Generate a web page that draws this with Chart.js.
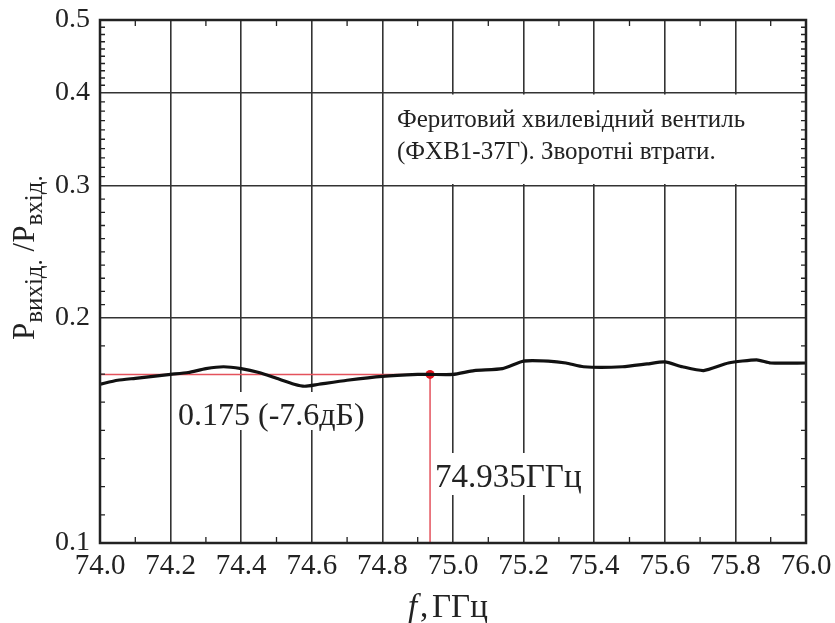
<!DOCTYPE html>
<html>
<head>
<meta charset="utf-8">
<script src="https://cdn.jsdelivr.net/npm/chart.js@4"></script>
<style>
  html, body { margin: 0; padding: 0; background: #fff; }
  #wrap { width: 835px; height: 623px; }
</style>
</head>
<body>
<div id="wrap"><canvas id="lossChart" width="835" height="623"></canvas></div>
<script>
// frequency, GHz
const freqs = [74.00, 74.05, 74.10, 74.15, 74.20, 74.25, 74.30, 74.35, 74.40, 74.45,
  74.50, 74.55, 74.58, 74.62, 74.70, 74.80, 74.90, 74.935, 75.00, 75.06,
  75.14, 75.20, 75.27, 75.32, 75.37, 75.48, 75.55, 75.60, 75.65, 75.71,
  75.78, 75.86, 75.90, 76.00];
// Pout / Pin
const ratio = [0.163, 0.165, 0.166, 0.167, 0.168, 0.169, 0.171, 0.172, 0.171, 0.169,
  0.166, 0.163, 0.162, 0.163, 0.165, 0.167, 0.168, 0.168, 0.168, 0.170,
  0.171, 0.175, 0.175, 0.174, 0.172, 0.172, 0.1735, 0.1746, 0.172, 0.170,
  0.174, 0.1757, 0.174, 0.174];

const xTicks = [74.0, 74.2, 74.4, 74.6, 74.8, 75.0, 75.2, 75.4, 75.6, 75.8, 76.0];
const yTicks = [0.1, 0.2, 0.3, 0.4, 0.5];

const markerFreq = 74.935;
const markerLevel = 0.168;

const SERIF = '"Liberation Serif", "Times New Roman", serif';

// white label boxes, notes and frame
const decor = {
  id: 'decor',
  beforeDatasetsDraw(chart) {
    const { ctx, chartArea: a, scales: { x, y } } = chart;
    ctx.save();
    ctx.fillStyle = '#fff';
    // caption box between 0.3 and 0.4 lines
    const bx = x.getPixelForValue(74.8) + 2;
    const by1 = y.getPixelForValue(0.4) + 2;
    const by2 = y.getPixelForValue(0.3) - 2;
    ctx.fillRect(bx, by1, a.right - bx, by2 - by1);
    ctx.fillRect(175, 392, 200, 38);
    ctx.fillRect(433, 453, 158, 42);

    ctx.fillStyle = '#222';
    ctx.textBaseline = 'alphabetic';
    ctx.font = '25px ' + SERIF;
    ctx.fillText('Феритовий хвилевідний вентиль', 397, 127);
    ctx.fillText('(ФХВ1-37Г). Зворотні втрати.', 397, 159);

    ctx.font = '32px ' + SERIF;
    ctx.fillText('0.175 (-7.6дБ)', 178, 425);
    ctx.font = '33px ' + SERIF;
    ctx.fillText('74.935ГГц', 435, 487);
    ctx.restore();
  },
  afterDraw(chart) {
    const { ctx, chartArea: a, scales: { x, y } } = chart;
    ctx.save();
    ctx.strokeStyle = '#222';
    ctx.lineWidth = 1.3;
    // minor ticks top / bottom
    for (let i = 0; i < xTicks.length - 1; i++) {
      const px = x.getPixelForValue((xTicks[i] + xTicks[i + 1]) / 2);
      ctx.beginPath();
      ctx.moveTo(px, a.top); ctx.lineTo(px, a.top + 6);
      ctx.moveTo(px, a.bottom); ctx.lineTo(px, a.bottom - 6);
      ctx.stroke();
    }
    // minor ticks left / right, evenly spaced between majors
    const subs = [8, 10, 10, 10];
    for (let i = 0; i < yTicks.length - 1; i++) {
      const p0 = y.getPixelForValue(yTicks[i]);
      const p1 = y.getPixelForValue(yTicks[i + 1]);
      for (let k = 1; k < subs[i]; k++) {
        const py = p0 + (p1 - p0) * k / subs[i];
        ctx.beginPath();
        ctx.moveTo(a.left, py); ctx.lineTo(a.left + 5, py);
        ctx.moveTo(a.right, py); ctx.lineTo(a.right - 5, py);
        ctx.stroke();
      }
    }
    // frame
    ctx.lineWidth = 2.5;
    ctx.strokeRect(a.left, a.top, a.right - a.left, a.bottom - a.top);

    // x title
    ctx.fillStyle = '#222';
    ctx.textBaseline = 'alphabetic';
    ctx.font = 'italic 33px ' + SERIF;
    ctx.fillText('f', 408, 617);
    ctx.font = '33px ' + SERIF;
    ctx.fillText(',', 420, 617);
    ctx.fillText('ГГц', 432, 617);

    // y title, rotated, with subscripts
    ctx.translate(34, 340);
    ctx.rotate(-Math.PI / 2);
    let cx = 0;
    const part = (t, size, dy) => {
      ctx.font = size + 'px ' + SERIF;
      ctx.fillText(t, cx, dy);
      cx += ctx.measureText(t).width;
    };
    part('P', 31, 0);
    part('вихід.', 25, 8);
    part(' /', 31, 0);
    part('P', 31, 0);
    part('вхід.', 25, 8);
    ctx.restore();
  }
};

const ctx = document.getElementById('lossChart').getContext('2d');
new Chart(ctx, {
  type: 'line',
  data: {
    datasets: [
      {
        label: 'loss',
        data: freqs.map((f, i) => ({ x: f, y: ratio[i] })),
        borderColor: '#111',
        borderWidth: 3.2,
        pointRadius: 0,
        tension: 0.2,
        order: 0
      },
      {
        label: 'level',
        data: [{ x: xTicks[0], y: markerLevel }, { x: markerFreq, y: markerLevel }],
        borderColor: '#e4525c',
        borderWidth: 1.5,
        pointRadius: 0,
        order: 1
      },
      {
        label: 'freq',
        data: [{ x: markerFreq, y: yTicks[0] }, { x: markerFreq, y: markerLevel }],
        borderColor: '#e4525c',
        borderWidth: 1.5,
        pointRadius: 0,
        order: 1
      },
      {
        label: 'point',
        data: [{ x: markerFreq, y: markerLevel }],
        showLine: false,
        pointRadius: 4.5,
        pointBackgroundColor: '#e3141e',
        pointBorderWidth: 0,
        order: 0
      }
    ]
  },
  options: {
    responsive: false,
    animation: false,
    layout: { padding: { left: 0, top: 20, right: 29, bottom: 0 } },
    plugins: { legend: { display: false }, tooltip: { enabled: false } },
    scales: {
      x: {
        type: 'linear',
        min: xTicks[0],
        max: xTicks[xTicks.length - 1],
        afterBuildTicks: s => { s.ticks = xTicks.map(v => ({ value: v })); },
        afterFit: s => { s.height = 80; s.paddingLeft = 0; s.paddingRight = 0; },
        ticks: {
          font: { family: SERIF, size: 29 },
          color: '#222',
          padding: 6,
          maxRotation: 0,
          autoSkip: false,
          callback: v => v.toFixed(1)
        },
        grid: { color: '#333', lineWidth: 1.6, drawTicks: false },
        border: { display: false }
      },
      y: {
        type: 'logarithmic',
        min: yTicks[0],
        max: yTicks[yTicks.length - 1],
        afterBuildTicks: s => { s.ticks = yTicks.map(v => ({ value: v })); },
        afterFit: s => { s.width = 100; s.paddingTop = 0; s.paddingBottom = 0; },
        ticks: {
          font: { family: SERIF, size: 28 },
          color: '#222',
          padding: 10,
          autoSkip: false,
          callback: v => String(v)
        },
        grid: { color: '#333', lineWidth: 1.6, drawTicks: false },
        border: { display: false }
      }
    }
  },
  plugins: [decor]
});
</script>
</body>
</html>
